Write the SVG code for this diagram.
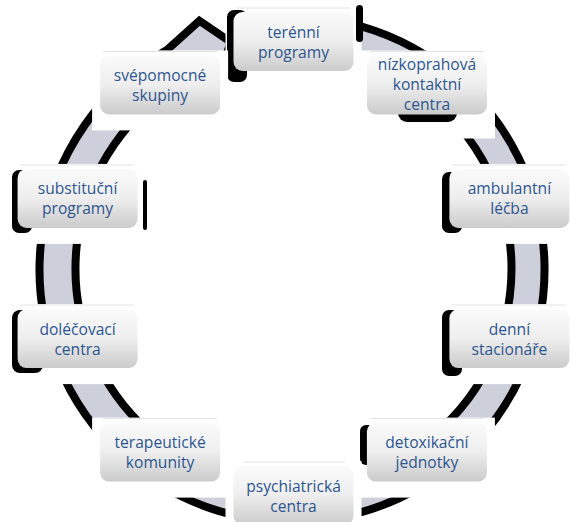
<svg xmlns="http://www.w3.org/2000/svg" width="571" height="522" viewBox="0 0 571 522">
<defs>
<linearGradient id="boxg" x1="0" y1="0" x2="0" y2="1">
<stop offset="0" stop-color="#fbfbfb"/>
<stop offset="0.5" stop-color="#eeeeee"/>
<stop offset="1" stop-color="#cbcbcb"/>
</linearGradient>
<style>
.knock{fill:#ffffff;}
.hl{stroke:#e4e4e4;stroke-width:1;fill:none;}
.sh{fill:#000000;}
.box{fill:url(#boxg);}
.lbl{font-family:"Open Sans","Noto Sans","Liberation Sans",sans-serif;font-size:15.6px;fill:#2d5590;text-anchor:middle;}
.ring{fill:#cdd0da;stroke:#000000;stroke-width:8;stroke-linejoin:miter;}
</style>
</defs>
<rect width="571" height="522" fill="#ffffff"/>
<g id="connectors">
<path class="ring" d="M319.89,18.38 A252.5,252.5 0 1 1 167.25,49.83 L199.4,20.8 L230.7,42.05 L219.99,74.99 L184.5,79.7 A218,218 0 1 0 316.29,51.69 Z"/>
</g>
<g id="node-terenni">
<rect class="knock" x="225.5" y="7" width="136" height="80"/>
<line class="hl" x1="236" y1="8" x2="350" y2="8"/>
<rect class="sh" x="227" y="10" width="20" height="72" rx="7"/>
<rect class="sh" x="356" y="5" width="7" height="37" rx="3.5"/>
<rect class="box" x="233.5" y="12" width="120" height="59" rx="9"/>
<text class="lbl" x="293.5" y="37.5">terénní</text>
<text class="lbl" x="293.5" y="57.5">programy</text>
</g>
<g id="node-nizkoprahova">
<rect class="knock" x="359" y="50.5" width="136" height="88"/>
<line class="hl" x1="370" y1="51.5" x2="484" y2="51.5"/>
<rect class="sh" x="398" y="100" width="59" height="22" rx="9"/>
<rect class="box" x="367" y="55.5" width="120" height="59" rx="9"/>
<text class="lbl" x="427" y="69.5">nízkoprahová</text>
<text class="lbl" x="427" y="89.5">kontaktní</text>
<text class="lbl" x="427" y="109.5">centra</text>
</g>
<g id="node-ambulantni">
<rect class="knock" x="441.4" y="163.9" width="136" height="80"/>
<line class="hl" x1="452" y1="165" x2="566" y2="165"/>
<rect class="sh" x="442" y="172" width="20" height="61" rx="7"/>
<rect class="box" x="449.4" y="168.9" width="120" height="59" rx="9"/>
<text class="lbl" x="509.4" y="194.4">ambulantní</text>
<text class="lbl" x="509.4" y="214.4">léčba</text>
</g>
<g id="node-denni">
<rect class="knock" x="441.4" y="304.1" width="136" height="80"/>
<line class="hl" x1="452" y1="305" x2="566" y2="305"/>
<rect class="sh" x="442" y="310" width="20" height="66" rx="7"/>
<rect class="box" x="449.4" y="309.1" width="120" height="59" rx="9"/>
<text class="lbl" x="509.4" y="334.6">denní</text>
<text class="lbl" x="509.4" y="354.6">stacionáře</text>
</g>
<g id="node-detoxikacni">
<rect class="knock" x="358.9" y="417.6" width="136" height="80"/>
<line class="hl" x1="370" y1="418.5" x2="484" y2="418.5"/>
<rect class="sh" x="360" y="425" width="20" height="40" rx="6"/>
<rect class="box" x="366.9" y="422.6" width="120" height="59" rx="9"/>
<text class="lbl" x="426.9" y="448.1">detoxikační</text>
<text class="lbl" x="426.9" y="468.1">jednotky</text>
</g>
<g id="node-psychiatricka">
<rect class="knock" x="225.5" y="461" width="136" height="61"/>
<line class="hl" x1="243" y1="462" x2="345" y2="462"/>
<rect class="box" x="233.5" y="466" width="120" height="59" rx="9"/>
<text class="lbl" x="293.5" y="491.5">psychiatrická</text>
<text class="lbl" x="293.5" y="511.5">centra</text>
</g>
<g id="node-terapeuticke">
<rect class="knock" x="92.1" y="417.6" width="136" height="80"/>
<line class="hl" x1="103" y1="418.5" x2="217" y2="418.5"/>
<rect class="box" x="100.1" y="422.6" width="120" height="59" rx="9"/>
<text class="lbl" x="160.1" y="448.1">terapeutické</text>
<text class="lbl" x="160.1" y="468.1">komunity</text>
</g>
<g id="node-dolecovaci">
<rect class="knock" x="9.6" y="304.1" width="136" height="80"/>
<line class="hl" x1="20" y1="305" x2="134" y2="305"/>
<rect class="sh" x="12" y="310" width="31" height="63" rx="8"/>
<rect class="box" x="17.6" y="309.1" width="120" height="59" rx="9"/>
<text class="lbl" x="77.6" y="334.6">doléčovací</text>
<text class="lbl" x="77.6" y="354.6">centra</text>
</g>
<g id="node-substitucni">
<rect class="knock" x="9.6" y="163.9" width="136" height="80"/>
<line class="hl" x1="20" y1="165" x2="134" y2="165"/>
<rect class="sh" x="12" y="170" width="20" height="63" rx="7"/>
<rect class="sh" x="143" y="180" width="4" height="50" rx="2"/>
<rect class="box" x="17.6" y="168.9" width="120" height="59" rx="9"/>
<text class="lbl" x="77.6" y="194.4">substituční</text>
<text class="lbl" x="77.6" y="214.4">programy</text>
</g>
<g id="node-svepomocne">
<rect class="knock" x="92.1" y="50.4" width="136" height="80"/>
<line class="hl" x1="103" y1="51.5" x2="217" y2="51.5"/>
<rect class="box" x="100.1" y="55.4" width="120" height="59" rx="9"/>
<text class="lbl" x="160.1" y="80.9">svépomocné</text>
<text class="lbl" x="160.1" y="100.9">skupiny</text>
</g>
</svg>
